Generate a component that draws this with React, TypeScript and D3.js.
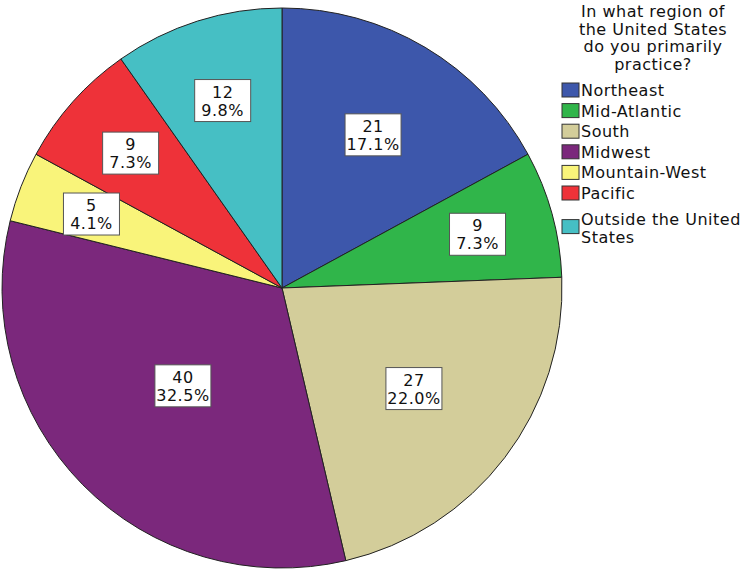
import { useRef, useEffect } from "react"
import * as d3 from "d3"

const regions = ["Northeast", "Mid-Atlantic", "South", "Midwest", "Mountain-West", "Pacific", "Outside the United States"]
const counts = [21, 9, 27, 40, 5, 9, 12]
const colors = ["#3d57ab", "#30b54a", "#d3cd9a", "#7b287c", "#f9f47a", "#ee3239", "#46bfc4"]
const titleLines = ["In what region of", "the United States", "do you primarily", "practice?"]

const W = 742
const H = 571

const App = () => {
  const svgRef = useRef<SVGSVGElement>(null)

  useEffect(() => {
    const svg = d3.select(svgRef.current)
    svg.selectAll("*").remove()

    const cx = 282
    const cy = 288
    const r = 280
    const total = d3.sum(counts)

    const pie = d3.pie<number>().sort(null).value((d) => d)
    const arcs = pie(counts)
    const arc = d3.arc<d3.PieArcDatum<number>>().innerRadius(0).outerRadius(r)

    const g = svg.append("g").attr("transform", `translate(${cx},${cy})`)

    g.selectAll("path")
      .data(arcs)
      .enter()
      .append("path")
      .attr("d", arc)
      .attr("fill", (d, i) => colors[i])
      .attr("stroke", "#222")
      .attr("stroke-width", 1)

    // bigger slices keep their label nearer the centre
    const labelArc = (d) => {
      const frac = d.value / total
      const lr = r * Math.min(0.73, 0.79 - 0.9 * frac)
      return d3.arc().innerRadius(lr).outerRadius(lr).centroid(d as any)
    }

    const lab = g
      .append("g")
      .selectAll("g")
      .data(arcs)
      .enter()
      .append("g")
      .attr("transform", (d) => {
        const [x, y] = labelArc(d)
        return `translate(${x},${y})`
      })

    lab
      .append("rect")
      .attr("x", -28)
      .attr("y", -21)
      .attr("width", 56)
      .attr("height", 42)
      .attr("fill", "#fff")
      .attr("stroke", "#555")
      .attr("stroke-width", 1)

    const txt = lab
      .append("text")
      .attr("text-anchor", "middle")
      .style("font-family", "DejaVu Sans")
      .style("font-size", "16px")
      .style("letter-spacing", "0.5px")
      .style("fill", "#111")

    txt.append("tspan").attr("x", 0).attr("y", -3).text((d) => d.value)
    txt
      .append("tspan")
      .attr("x", 0)
      .attr("y", 15)
      .text((d) => ((d.value / total) * 100).toFixed(1) + "%")

    // legend
    const leg = svg.append("g")
    leg
      .append("text")
      .attr("text-anchor", "middle")
      .style("font-family", "DejaVu Sans")
      .style("font-size", "16px")
      .style("letter-spacing", "0.5px")
      .style("fill", "#111")
      .selectAll("tspan")
      .data(titleLines)
      .enter()
      .append("tspan")
      .attr("x", 653)
      .attr("y", (d, i) => 17 + i * 17.5)
      .text((d) => d)

    const item = leg
      .selectAll("g")
      .data(regions)
      .enter()
      .append("g")
      .attr("transform", (d, i) => `translate(562,${90 + i * 20.6 + (i === 6 ? 13 : 0)})`)

    item
      .append("rect")
      .attr("x", 0)
      .attr("y", -7)
      .attr("width", 17)
      .attr("height", 14)
      .attr("fill", (d, i) => colors[i])
      .attr("stroke", "#333")
      .attr("stroke-width", 1)

    item.each(function (d) {
      const words = d === "Outside the United States" ? ["Outside the United", "States"] : [d]
      const t = d3
        .select(this)
        .append("text")
        .style("font-family", "DejaVu Sans")
        .style("font-size", "16px")
        .style("letter-spacing", "0.5px")
        .style("fill", "#111")
      words.forEach((w, k) => {
        t.append("tspan")
          .attr("x", 19)
          .attr("y", (words.length > 1 ? -2 : 6) + k * 18)
          .text(w)
      })
    })
  }, [])

  return (
    <svg
      ref={svgRef}
      width={W}
      height={H}
      style={{ position: "absolute", left: 0, top: 0, background: "#fff" }}
    ></svg>
  )
}

export default App
